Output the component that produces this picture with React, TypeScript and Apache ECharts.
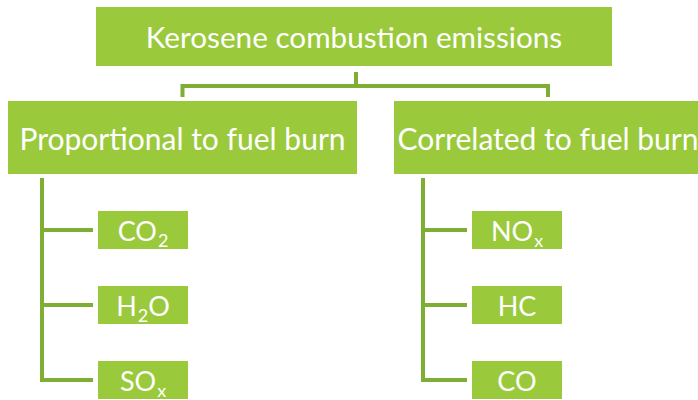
import React, { useEffect, useRef } from "react";
import * as echarts from "echarts";

// ---- data ----
const rootLabel = "Kerosene combustion emissions";
const groupLabels = ["Proportional to fuel burn", "Correlated to fuel burn"];
// children per group; subscript written with rich tag {sub|...}
const proportionalChildren = ["CO{sub|2}", "H{sub|2}O", "SO{sub|x}"];
const correlatedChildren = ["NO{sub|x}", "HC", "CO"];
const childrenByGroup = [proportionalChildren, correlatedChildren];

// ---- layout / style ----
const BOX = "#9aca3c";
const LINE = "#7eae34";
const FONT = "Lato, 'Open Sans', sans-serif";

const rootBox = { x: 96, y: 7, w: 516, h: 59 };
const groupBoxes = [
  { x: 8, y: 101, w: 349, h: 73 },
  { x: 394, y: 101, w: 308, h: 73 },
];
const childX = [98, 472];
const childW = 90;
const childH = 38;
const childTop = 211;
const childStep = 75;
const spineX = [42, 423];

function buildGraphic() {
  const els: any[] = [];
  const textStyle = (text: string, cx: number, cy: number, size: number) => ({
    type: "text",
    style: {
      text,
      x: cx,
      y: cy,
      fill: "#ffffff",
      font: `${size}px ${FONT}`,
      align: "center",
      verticalAlign: "middle",
      rich: {
        sub: { fontSize: 18, fontFamily: FONT, fill: "#ffffff", padding: [20, 0, 0, 1] },
      },
    },
  });
  const rect = (b: { x: number; y: number; w: number; h: number }) => ({
    type: "rect",
    shape: { x: b.x, y: b.y, width: b.w, height: b.h },
    style: { fill: BOX },
  });

  // root
  els.push(rect(rootBox));
  els.push(textStyle(rootLabel, rootBox.x + rootBox.w / 2, rootBox.y + rootBox.h / 2, 29.7));

  // bracket connector
  const rootCx = rootBox.x + rootBox.w / 2 + 2;
  const barY = 86;
  const g0 = groupBoxes[0].x + groupBoxes[0].w / 2;
  const g1 = groupBoxes[1].x + groupBoxes[1].w / 2;
  els.push({
    type: "line",
    shape: { x1: rootCx, y1: 72, x2: rootCx, y2: barY },
    style: { stroke: LINE, lineWidth: 4 },
  });
  els.push({
    type: "polyline",
    shape: { points: [[g0, 97], [g0, barY], [g1, barY], [g1, 97]] },
    style: { stroke: LINE, lineWidth: 4, fill: null, lineJoin: "miter" },
  });

  groupLabels.forEach((label, gi) => {
    const b = groupBoxes[gi];
    els.push(rect(b));
    els.push(textStyle(label, gi === 0 ? b.x + b.w / 2 : 548, b.y + b.h / 2, 30));

    const kids = childrenByGroup[gi];
    const sx = spineX[gi];
    const lastY = childTop + (kids.length - 1) * childStep + childH / 2;
    els.push({
      type: "line",
      shape: { x1: sx, y1: 178, x2: sx, y2: lastY },
      style: { stroke: LINE, lineWidth: 4 },
    });
    kids.forEach((k, ki) => {
      const y = childTop + ki * childStep;
      const cy = y + childH / 2;
      els.push({
        type: "line",
        shape: { x1: sx - 2, y1: cy, x2: childX[gi] - 5, y2: cy },
        style: { stroke: LINE, lineWidth: 4 },
      });
      const cb = { x: childX[gi], y, w: childW, h: childH };
      els.push(rect(cb));
      els.push(textStyle(k, cb.x + cb.w / 2, cy, 27));
    });
  });
  return els;
}

export default function App() {
  const ref = useRef<HTMLDivElement>(null);
  useEffect(() => {
    if (!ref.current) return;
    const chart = echarts.init(ref.current, null, { renderer: "svg" });
    chart.setOption({
      animation: false,
      backgroundColor: "#ffffff",
      graphic: { elements: buildGraphic() },
    });
    return () => chart.dispose();
  }, []);
  return (
    <div
      ref={ref}
      style={{ position: "fixed", left: 0, top: 0, width: 698, height: 400 }}
    />
  );
}
